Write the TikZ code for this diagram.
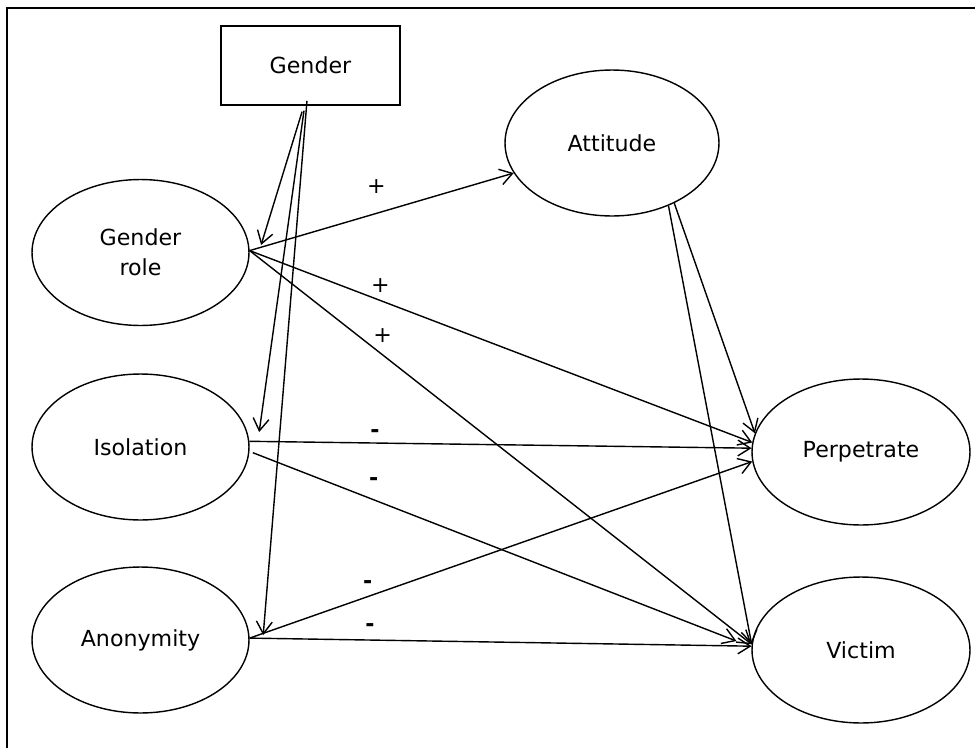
\documentclass[tikz,border=0pt]{standalone}
\usepackage{fontspec}
\setmainfont{DejaVu Sans}
\usetikzlibrary{arrows.meta,shapes.geometric}
\begin{document}
\begin{tikzpicture}[x=0.02cm,y=-0.02cm,
    every node/.style={font=\fontsize{12.6}{17}\selectfont},
    var/.style={draw,ellipse,line width=0.8pt,inner sep=0pt,minimum width=4.34cm,minimum height=2.92cm,align=center},
    obs/.style={draw,rectangle,line width=0.8pt,inner sep=0pt,minimum width=3.58cm,minimum height=1.58cm},
    link/.style={->,>={Straight Barb[length=7pt,width=9pt]},line width=0.8pt},
    sign/.style={inner sep=0pt}]
    \useasboundingbox (0,0) rectangle (975,748);
    \draw[line width=1.3pt] (7,8) rectangle (990,760);

    \node[obs] (gender) at (310.5,65.5) {Gender};
    \node[var,minimum width=4.28cm] (attitude) at (612,143) {Attitude};
    \node[var] (grole) at (140.5,252.5) {Gender\\role};
    \node[var] (isol) at (140.5,447) {Isolation};
    \node[var] (anon) at (140.5,640) {Anonymity};
    \node[var,minimum width=4.36cm] (perp) at (861,452) {Perpetrate};
    \node[var,minimum width=4.36cm] (victim) at (861,650) {Victim};

    \draw[link] ([xshift=-4.8pt,yshift=-3.4pt]gender.south) -- ([xshift=6.5pt,yshift=4.3pt]grole.east);
    \draw[link] ([xshift=-3.7pt,yshift=-2.8pt]gender.south) -- ([xshift=5.4pt,yshift=8.5pt]isol.east);
    \draw[link] ([xshift=-2pt,yshift=2.8pt]gender.south) -- ([xshift=7.7pt,yshift=2.8pt]anon.east);

    \draw[link] (grole.1) -- (attitude.197) node[sign,pos=0.48,above=11pt] {+};
    \draw[link] (grole.1) -- (perp.175) node[sign,pos=0.26,above=4pt] {+};
    \draw[link] (grole.1) -- (victim.177) node[sign,pos=0.265,above=6.6pt] {+};

    \draw[link] (isol.3) -- (perp.178) node[sign,pos=0.25,above=2.6pt] {\textbf{-}};
    \draw[link] ([xshift=2pt]isol.357) -- ([xshift=-8.5pt,yshift=5.1pt]victim.west) node[sign,pos=0.25,above=7.7pt] {\textbf{-}};

    \draw[link] (anon.1) -- (perp.185) node[sign,pos=0.235,above=4pt] {\textbf{-}};
    \draw[link] (anon.1) -- (victim.178) node[sign,pos=0.24,above=4.3pt] {\textbf{-}};

    \draw[link] (attitude.316) -- (perp.170);
    \draw[link] (attitude.312) -- (victim.177);
\end{tikzpicture}
\end{document}
